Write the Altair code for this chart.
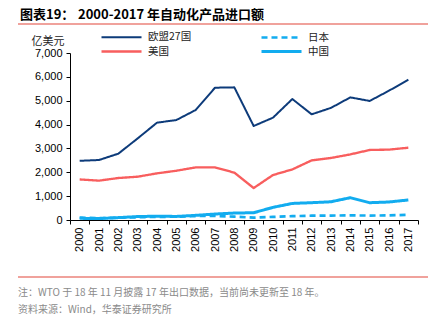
import altair as alt
import pandas as pd

years = [str(y) for y in range(2000, 2018)]
eu = [2480, 2515, 2780, 3420, 4080, 4190, 4610, 5545, 5560, 3940, 4290, 5070, 4430, 4700, 5140, 4990, 5420, 5880]
us = [1700, 1650, 1760, 1815, 1955, 2065, 2205, 2205, 1985, 1340, 1885, 2120, 2500, 2600, 2750, 2935, 2950, 3030]
jp = [100, 75, 95, 115, 130, 140, 165, 170, 140, 100, 130, 160, 180, 185, 195, 185, 195, 215]
cn = [70, 60, 100, 145, 160, 150, 195, 250, 290, 305, 530, 695, 725, 765, 935, 725, 755, 840]

series_names = ["欧盟27国", "美国", "日本", "中国"]
series_vals = [eu, us, jp, cn]
y_ticks = [0, 1000, 2000, 3000, 4000, 5000, 6000, 7000]

rows = []
for name, vals in zip(series_names, series_vals):
    for y, v in zip(years, vals):
        rows.append({"year": y, "series": name, "value": v})
df = pd.DataFrame(rows)

FONT = "Liberation Sans"
CJK = "Noto Sans CJK SC"

W, H = 348, 167

lines = alt.Chart(df).mark_line(strokeJoin="round").encode(
    x=alt.X("year:O", title=None, bandPosition=0.5,
            scale=alt.Scale(type="band", paddingInner=0, paddingOuter=0),
            axis=alt.Axis(labelAngle=-90, tickBand="extent", labelFont=FONT, labelFontSize=11,
                          labelColor="#000", domainColor="#000", tickColor="#000", tickSize=4,
                          labelPadding=3, grid=False)),
    y=alt.Y("value:Q", title=None,
            scale=alt.Scale(domain=[0, 7000]),
            axis=alt.Axis(values=y_ticks, labelExpr="format(datum.value, ',')",
                          labelFont=FONT, labelFontSize=11, labelColor="#000",
                          domainColor="#000", tickColor="#000", tickSize=4, labelPadding=4, grid=False)),
    color=alt.Color("series:N", title=None,
                    scale=alt.Scale(domain=series_names, range=["#0d3b7a", "#f85e5e", "#12acef", "#12acef"]),
                    legend=alt.Legend(orient="none", legendX=30, legendY=-23, columns=2,
                                      symbolType="M-1,0L5.67,0", symbolSize=144, columnPadding=63,
                                      rowPadding=1, labelFont=CJK, labelFontSize=10.5, labelColor="#222",
                                      labelOffset=33)),
    strokeDash=alt.StrokeDash("series:N", title=None,
                              scale=alt.Scale(domain=series_names, range=[[1, 0], [1, 0], [6, 4], [1, 0]])),
    strokeWidth=alt.StrokeWidth("series:N", title=None,
                                scale=alt.Scale(domain=series_names, range=[2, 3, 1.8, 3])),
    order=alt.Order("year:O"),
)

base = alt.Chart(pd.DataFrame({"a": [0]}))

title1 = base.mark_text(align="left", baseline="middle", font=CJK, fontSize=13, fontWeight="bold", color="#000").encode(
    x=alt.value(-50), y=alt.value(-38), text=alt.value("图表19："))
title2 = base.mark_text(align="left", baseline="middle", font=CJK, fontSize=13, fontWeight="bold", color="#000").encode(
    x=alt.value(8), y=alt.value(-38), text=alt.value("2000-2017 年自动化产品进口额"))
topline = base.mark_rule(color="#e2473b", strokeWidth=1.2).encode(
    x=alt.value(-52), x2=alt.value(358), y=alt.value(-29))
unit = base.mark_text(align="center", baseline="middle", font=CJK, fontSize=11, color="#222").encode(
    x=alt.value(-22), y=alt.value(-11), text=alt.value("亿美元"))
botline = base.mark_rule(color="#e2473b", strokeWidth=1.2).encode(
    x=alt.value(-52), x2=alt.value(358), y=alt.value(224))
note = base.mark_text(align="left", baseline="middle", font=CJK, fontSize=10, color="#8a8a8a").encode(
    x=alt.value(-52), y=alt.value(240), text=alt.value("注：WTO 于 18 年 11 月披露 17 年出口数据，当前尚未更新至 18 年。"))
src = base.mark_text(align="left", baseline="middle", font=CJK, fontSize=10, color="#8a8a8a").encode(
    x=alt.value(-52), y=alt.value(257), text=alt.value("资料来源：Wind，华泰证券研究所"))

chart = alt.layer(lines, title1, title2, topline, unit, botline, note, src).properties(
    width=W, height=H,
    padding={"left": 70, "top": 53, "right": 27, "bottom": 101},
    autosize=alt.AutoSizeParams(type="none"),
    background="white",
).configure_view(stroke=None)

chart.save("out.html", embed_options={"renderer": "svg", "actions": False})
